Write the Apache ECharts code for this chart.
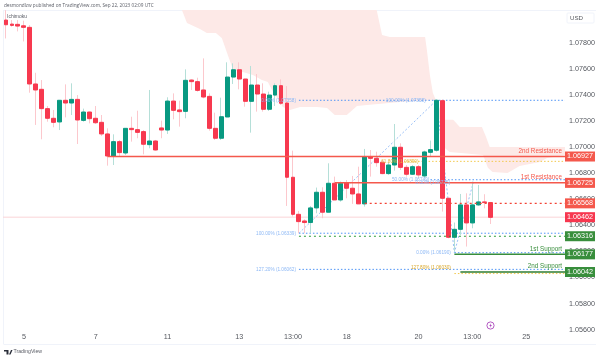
<!DOCTYPE html>
<html><head><meta charset="utf-8">
<style>html,body{margin:0;padding:0;background:#fff}#c{width:600px;height:359px}</style>
<script src="https://cdn.jsdelivr.net/npm/echarts@6/dist/echarts.min.js"></script>
</head><body><div id="c"></div>
<script>
const opens=[1.07973,1.07942,1.0794,1.07929,1.07917,1.07483,1.07442,1.07294,1.0722,1.07192,
1.07358,1.07337,1.07365,1.07204,1.07268,1.0722,1.07189,1.071,1.06931,1.07041,
1.06954,1.07143,1.07133,1.07118,1.07018,1.07046,1.07146,1.0713,1.07352,1.07284,
1.07273,1.07513,1.07501,1.07437,1.07388,1.07143,1.07067,1.0723,1.07536,1.07592,
1.07521,1.0735,1.07475,1.07406,1.07289,1.07398,1.0747,1.07337,1.06768,1.06484,
1.06433,1.06421,1.06533,1.06653,1.065,1.06722,1.06594,1.06727,1.06684,1.0664,
1.06564,1.06926,1.06913,1.06883,1.06796,1.06862,1.06998,1.06844,1.06791,1.06849,
1.06778,1.06959,1.06975,1.07355,1.06607,1.06308,1.06369,1.06556,1.06418,1.06556,
1.06579,1.06574];
const closes=[1.07937,1.07932,1.07927,1.07917,1.07483,1.07437,1.07294,1.0722,1.07189,1.07358,
1.07337,1.07365,1.07207,1.07268,1.07217,1.07186,1.071,1.06931,1.07041,1.06957,
1.07143,1.07133,1.07112,1.07021,1.07046,1.06977,1.0713,1.07352,1.07281,1.07271,
1.07511,1.07501,1.07434,1.07383,1.07143,1.07067,1.07232,1.07536,1.07592,1.07521,
1.0735,1.07475,1.07406,1.07289,1.07398,1.0747,1.07335,1.06768,1.06484,1.06428,
1.06421,1.06533,1.06653,1.065,1.06722,1.06594,1.06722,1.06684,1.0664,1.06564,
1.06926,1.06913,1.0688,1.06796,1.06862,1.06998,1.06844,1.06791,1.06849,1.06786,
1.06962,1.0698,1.07358,1.06607,1.06308,1.06369,1.06556,1.06418,1.06556,1.06579,
1.06574,1.06461];
const lows=[1.07832,1.07922,1.07886,1.07809,1.07416,1.07169,1.07059,1.07194,1.07151,1.0713,
1.07227,1.07245,1.07023,1.07194,1.07181,1.07176,1.07084,1.06857,1.06862,1.06926,
1.06939,1.07041,1.07067,1.06944,1.0699,1.06972,1.07067,1.071,1.07212,1.07156,
1.0722,1.07437,1.07424,1.07373,1.07125,1.07054,1.07054,1.0723,1.07483,1.07442,
1.07309,1.0711,1.07271,1.07271,1.07276,1.07314,1.07322,1.06548,1.06467,1.06339,
1.06339,1.06339,1.06492,1.06454,1.065,1.06594,1.06581,1.06607,1.06564,1.06564,
1.06543,1.06773,1.06849,1.06791,1.06786,1.06819,1.06824,1.06773,1.06786,1.0676,
1.0676,1.06926,1.06964,1.06505,1.063,1.06198,1.06326,1.06237,1.06377,1.06548,
1.0653,1.0641];
const highs=[1.08049,1.07973,1.07973,1.07968,1.07935,1.07569,1.07513,1.07314,1.07284,1.07358,
1.0748,1.07488,1.07398,1.07294,1.07271,1.07314,1.07245,1.07143,1.07097,1.07054,
1.07143,1.07232,1.07278,1.0713,1.07437,1.07054,1.07202,1.07381,1.07411,1.07355,
1.07595,1.07518,1.07531,1.07679,1.07411,1.07263,1.07378,1.07649,1.07641,1.07649,
1.07521,1.07621,1.07559,1.07488,1.07424,1.07488,1.07518,1.07467,1.06972,1.0651,
1.06446,1.06548,1.06689,1.06691,1.06875,1.06773,1.06735,1.06747,1.06778,1.06849,
1.06985,1.06977,1.06964,1.06901,1.06883,1.07176,1.07028,1.06862,1.06862,1.06862,
1.06972,1.07049,1.07365,1.07365,1.06607,1.06421,1.0664,1.06645,1.06735,1.06709,
1.06638,1.06579];
const dayLabels={3:'5',15:'7',27:'11',39:'13',48:'13:00',57:'18',69:'20',78:'13:00',87:'25'};
const priceTicks=[1.056,1.058,1.06,1.062,1.064,1.066,1.068,1.07,1.072,1.074,1.076,1.078];
const cloudA=[[29.43,1.0805],[62,1.0805],[62.9,1.07858],[64.2,1.07843],[70.1,1.07843],[70.4,1.07743],[70.9,1.07552],[71.4,1.07414],[71.9,1.0736],
[65.9,1.07345],[60.4,1.07322],[58.7,1.07314],[57,1.07245],[55,1.07245],[53.7,1.07299],[52,1.07307],[49.2,1.07307],[47.5,1.07284],[46.3,1.07307],[44.5,1.07437],[43.8,1.07498],[42.8,1.07514],[41.3,1.07552],[39.6,1.07575],[38,1.0759],[37.1,1.07705],[36.1,1.07835],[35.1,1.07874],[33.6,1.07874],[32.44,1.07904],[30.27,1.0795]];
const cloudB=[[71.9,1.0736],[73.4,1.07208],[74.8,1.07208],[75.9,1.07154],[79.6,1.07154],[80.3,1.07077],[80.9,1.07],[93.5,1.07],
[93.5,1.06939],[90.5,1.06916],[89.3,1.06885],[85.9,1.06855],[83.9,1.06801],[81.4,1.06809],[80.6,1.0684],[79.8,1.06939],[74.2,1.06962],[73.4,1.06993]];
// level lines: price, first candle index
const levelPrices=[1.06462,1.07358,1.06749,1.0689,1.06339,1.0619,1.06062,1.0603,1.06927,1.06725,1.06568,1.06316,1.06177,1.06042];
const levelStarts=[-0.5,49,71,66,49,75,49,75,17,55,60,49,75,76];
const levelStyles=[
 ['#fbd5d8',1,'solid'],['#4f94f5',1,[1.5,2]],['#4f94f5',1,[1.5,2]],['#f2c84b',1,[1.5,2]],['#4f94f5',1,[1.5,2]],['#4f94f5',1,[1.5,2]],['#4f94f5',1,[1.5,2]],['#f2c84b',1,[1.5,2]],
 ['#f4584c',1.5,'solid'],['#f4584c',1.5,'solid'],['#f44336',1.2,[2,3]],['#2e9e3a',1.2,[2,3]],['#388e3c',1.5,'solid'],['#2f7d32',1.5,'solid']];
const tagPrices=[1.06927,1.06725,1.06568,1.06462,1.06316,1.06177,1.06042];
const tagColors=['#f4584c','#f4584c','#f4584c','#f7374f','#388e3c','#388e3c','#388e3c'];
const levelNames=[['2nd Resistance',1.06927,'#f4584c'],['1st Resistance',1.06725,'#f4584c'],['1st Support',1.06177,'#388e3c'],['2nd Support',1.06042,'#388e3c']];
const fibNotes=[['0.00% (1.07358)',48.5,1.07358,'#8db8f5'],['100.00% (1.07358)',70.2,1.07358,'#8db8f5'],['50.00% (1.06749)',70.8,1.06749,'#8db8f5'],['0.00% (1.06725)',74.3,1.06725,'#8db8f5'],
['61.80% (1.06890)',69,1.0689,'#e8b93f'],['100.00% (1.06339)',48.5,1.06339,'#8db8f5'],['0.00% (1.06190)',74.4,1.0619,'#8db8f5'],['127.20% (1.06062)',48.5,1.06062,'#8db8f5'],['127.80% (1.06030)',74.4,1.06075,'#d9a72b']];
const fibPath=[[49,1.06339],[72,1.07358],[75,1.0619],[78.2,1.06735]];

const cats=opens.map((_,i)=>i);for(let i=opens.length;i<94;i++)cats.push(i);
const F='"Liberation Sans",sans-serif';
const RED='#f7394f',GREEN='#089981';
const chart=echarts.init(document.getElementById('c'),null,{renderer:'canvas'});
function polygon(pts,color,z){return {type:'custom',xAxisIndex:1,yAxisIndex:0,z,clip:true,silent:true,data:[0],
  renderItem:(p,api)=>({type:'polygon',shape:{points:pts.map(q=>api.coord(q))},style:{fill:color}})};}
const series=[polygon(cloudA,'#fde9e7',1),polygon(cloudB,'#fde9e7',1)];
levelPrices.forEach((v,i)=>{const s=levelStyles[i];series.push({type:'line',xAxisIndex:1,yAxisIndex:0,z:i<8?2:5,silent:true,symbol:'none',
  data:[[levelStarts[i],v],[93.5,v]],lineStyle:{color:s[0],width:s[1],type:s[2]}});});
series.push({type:'line',xAxisIndex:1,yAxisIndex:0,z:2,silent:true,symbol:'none',data:fibPath,lineStyle:{color:'#8db8f5',width:0.9,type:[2,2]}});
series.push({name:'wicks',type:'candlestick',xAxisIndex:0,yAxisIndex:0,z:3,barWidth:1,silent:true,
  data:opens.map((o,i)=>[o,closes[i],lows[i],highs[i]]),
  itemStyle:{color:'#b5dfd8',color0:'#fcc8cd',borderColor:'#b5dfd8',borderColor0:'#fcc8cd',borderWidth:1}});
series.push({name:'bodies',type:'candlestick',xAxisIndex:0,yAxisIndex:0,z:4,barWidth:4.4,silent:true,
  data:opens.map((o,i)=>[o,closes[i],Math.min(o,closes[i]),Math.max(o,closes[i])]),
  itemStyle:{color:GREEN,color0:RED,borderColor:GREEN,borderColor0:RED,borderWidth:1}});
series.push({type:'custom',xAxisIndex:1,yAxisIndex:0,z:6,silent:true,clip:false,data:fibNotes.map((_,i)=>i),
  renderItem:(p,api)=>{const n=fibNotes[api.value(0)],c=api.coord([n[1],n[2]]);
    return {type:'text',style:{x:c[0],y:c[1],text:n[0],fill:n[3],font:'4.7px '+F,align:'right',verticalAlign:'middle'}};}});
series.push({type:'custom',xAxisIndex:1,yAxisIndex:0,z:7,silent:true,clip:false,data:levelNames.map((_,i)=>i),
  renderItem:(p,api)=>{const n=levelNames[api.value(0)],c=api.coord([93.5,n[1]]);
    return {type:'text',style:{x:c[0]-3,y:c[1]-5.5,text:n[0],fill:n[2],font:'6.3px '+F,align:'right',verticalAlign:'middle'}};}});
series.push({type:'custom',xAxisIndex:1,yAxisIndex:0,z:8,silent:true,clip:false,data:tagPrices.map((_,i)=>i),
  renderItem:(p,api)=>{const i=api.value(0),c=api.coord([93.5,tagPrices[i]]);
    return {type:'group',children:[
      {type:'rect',shape:{x:c[0],y:c[1]-5,width:30,height:10},style:{fill:tagColors[i]}},
      {type:'text',style:{x:c[0]+15,y:c[1],text:tagPrices[i].toFixed(5),fill:'#fff',font:'7.2px '+F,align:'center',verticalAlign:'middle'}}]};}});
chart.setOption({animation:false,backgroundColor:'#fff',
 grid:{left:3,top:10,width:562,height:334,show:false},
 xAxis:[{type:'category',data:cats,boundaryGap:true,position:'bottom',axisLine:{show:false},axisTick:{show:false},splitLine:{show:false},
   axisLabel:{interval:0,margin:-10,hideOverlap:false,fontFamily:F,fontSize:7.2,color:'#55585f',
     formatter:(v)=>dayLabels[v]||''}},
  {type:'value',min:-0.5,max:93.5,show:false}],
 yAxis:[{type:'value',position:'right',min:1.0549,max:1.0805,axisLine:{show:false},axisTick:{show:false},splitLine:{show:false},
   axisLabel:{customValues:priceTicks,margin:4,fontFamily:F,fontSize:7.2,color:'#55585f',formatter:(v)=>v.toFixed(5)}}],
 series,
 graphic:[
  {type:'text',left:4,top:3,style:{text:'desmondlzw published on TradingView.com, Sep 22, 2023 02:09 UTC',font:'4.7px "Open Sans",sans-serif',fill:'#5a5d66'}},
  {type:'text',left:7,top:14,style:{text:'Ichimoku',font:'5px '+F,fill:'#5a5d66'}},
  {type:'line',shape:{x1:3.5,y1:10.5,x2:596,y2:10.5},style:{stroke:'#f0f3fa',lineWidth:1}},
  {type:'line',shape:{x1:3.5,y1:10,x2:3.5,y2:344},style:{stroke:'#f0f3fa',lineWidth:1}},
  {type:'line',shape:{x1:3.5,y1:344.5,x2:596,y2:344.5},style:{stroke:'#f0f3fa',lineWidth:1}},
  {type:'rect',shape:{x:567,y:13,width:27,height:10,r:1},style:{fill:'#fff',stroke:'#f0f3fa',lineWidth:1}},
  {type:'text',left:570,top:15,style:{text:'USD',font:'6.2px '+F,fill:'#55585f'}},
  {type:'circle',shape:{cx:490.5,cy:325.5,r:3.6},style:{fill:'#fff',stroke:'#ab47bc',lineWidth:0.9}},
  {type:'polygon',shape:{points:[[491.2,323],[489.3,326],[490.5,326],[489.9,328],[491.9,325],[490.7,325]]},style:{fill:'#ab47bc'}},
  {type:'polygon',shape:{points:[[4,350],[8.5,350],[8.5,354.5],[6.5,354.5],[6.5,351.5],[4,351.5]]},style:{fill:'#2a2e39'}},
  {type:'polygon',shape:{points:[[9,354.5],[11,350],[12.5,350],[10.5,354.5]]},style:{fill:'#2a2e39'}},
  {type:'text',left:13.5,top:349,style:{text:'TradingView',font:'5.2px '+F,fill:'#5a5d66'}}
 ]});
</script></body></html>
